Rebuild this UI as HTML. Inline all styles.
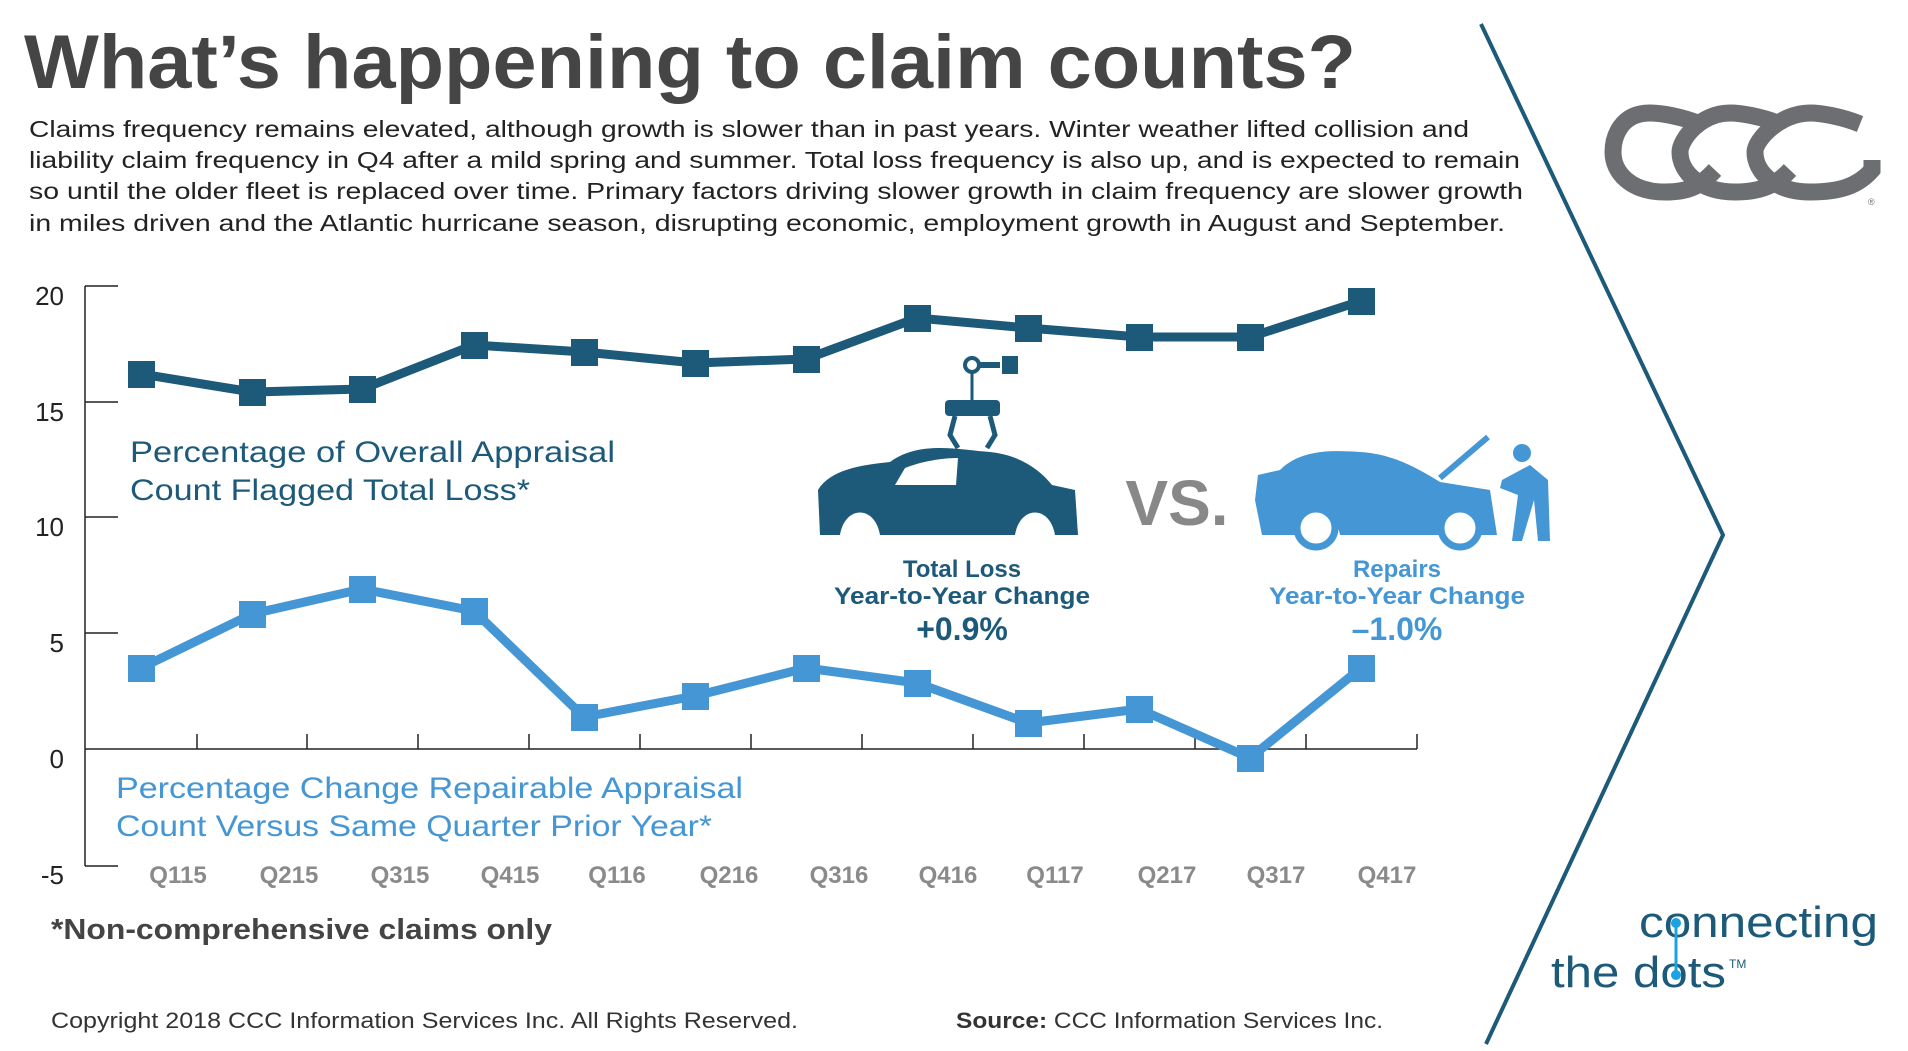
<!DOCTYPE html>
<html><head><meta charset="utf-8"><style>
html,body{margin:0;padding:0;background:#fff}
svg{display:block}
text{font-family:"Liberation Sans",sans-serif}
</style></head><body>
<svg width="1908" height="1051" viewBox="0 0 1908 1051" xmlns="http://www.w3.org/2000/svg">
<text x="24" y="88" font-size="76" font-weight="bold" fill="#454545" textLength="1332" lengthAdjust="spacingAndGlyphs">What’s happening to claim counts?</text>
<g font-size="23" fill="#222">
<text x="29" y="137" textLength="1440" lengthAdjust="spacingAndGlyphs">Claims frequency remains elevated, although growth is slower than in past years. Winter weather lifted collision and</text>
<text x="29" y="168" textLength="1491" lengthAdjust="spacingAndGlyphs">liability claim frequency in Q4 after a mild spring and summer. Total loss frequency is also up, and is expected to remain</text>
<text x="29" y="199" textLength="1494" lengthAdjust="spacingAndGlyphs">so until the older fleet is replaced over time. Primary factors driving slower growth in claim frequency are slower growth</text>
<text x="29" y="231" textLength="1476" lengthAdjust="spacingAndGlyphs">in miles driven and the Atlantic hurricane season, disrupting economic, employment growth in August and September.</text>
</g>
<polyline points="1481,24 1723,535 1486,1044" fill="none" stroke="#1d5a7a" stroke-width="4"/>
<g fill="none" stroke="#6d6e71" stroke-width="17">
<path d="M1700,124 C1680,116 1660,113 1650,113 C1620,113 1613,138 1613,152 C1613,172 1630,192 1665,192 C1690,192 1700,186 1715,170"/>
<path d="M1780,124 C1760,116 1740,113 1730,113 C1700,113 1680,140 1680,152 C1680,172 1700,192 1735,192 C1760,192 1775,186 1790,170"/>
<path d="M1860,124 C1840,116 1820,113 1810,113 C1780,113 1755,140 1755,152 C1755,172 1775,192 1810,192 C1840,192 1858,186 1872,170 L1872,160"/>
</g>
<text x="1868" y="205" font-size="9" fill="#6d6e71">®</text>
<g stroke="#222" stroke-width="1.5">
<line x1="85" y1="286" x2="85" y2="866"/>
<line x1="85" y1="286" x2="118" y2="286"/><line x1="85" y1="402" x2="118" y2="402"/><line x1="85" y1="517" x2="118" y2="517"/><line x1="85" y1="633" x2="118" y2="633"/><line x1="85" y1="866" x2="118" y2="866"/>
<line x1="85" y1="749" x2="1417" y2="749"/>
<line x1="197" y1="734" x2="197" y2="749"/><line x1="307" y1="734" x2="307" y2="749"/><line x1="418" y1="734" x2="418" y2="749"/><line x1="529" y1="734" x2="529" y2="749"/><line x1="640" y1="734" x2="640" y2="749"/><line x1="751" y1="734" x2="751" y2="749"/><line x1="862" y1="734" x2="862" y2="749"/><line x1="973" y1="734" x2="973" y2="749"/><line x1="1084" y1="734" x2="1084" y2="749"/><line x1="1195" y1="734" x2="1195" y2="749"/><line x1="1306" y1="734" x2="1306" y2="749"/><line x1="1417" y1="734" x2="1417" y2="749"/>
</g>
<g font-size="26" fill="#222" text-anchor="end">
<text x="64" y="305">20</text><text x="64" y="421">15</text><text x="64" y="536">10</text><text x="64" y="652">5</text><text x="64" y="768">0</text><text x="64" y="884">-5</text>
</g>
<g font-size="24" font-weight="bold" fill="#8a8a8a" text-anchor="middle">
<text x="178" y="883">Q115</text><text x="289" y="883">Q215</text><text x="400" y="883">Q315</text><text x="510" y="883">Q415</text><text x="617" y="883">Q116</text><text x="729" y="883">Q216</text><text x="839" y="883">Q316</text><text x="948" y="883">Q416</text><text x="1055" y="883">Q117</text><text x="1167" y="883">Q217</text><text x="1276" y="883">Q317</text><text x="1387" y="883">Q417</text>
</g>
<polyline points="141,374 252,392 362,389 474,345 584,352 695,363 806,359 917,318 1028,328 1139,337 1250,337 1361,301" fill="none" stroke="#1d5a7a" stroke-width="9" stroke-linejoin="round"/>
<g fill="#1d5a7a">
<rect x="128" y="361" width="27" height="27"/><rect x="239" y="379" width="27" height="27"/><rect x="349" y="376" width="27" height="27"/><rect x="461" y="332" width="27" height="27"/><rect x="571" y="339" width="27" height="27"/><rect x="682" y="350" width="27" height="27"/><rect x="793" y="346" width="27" height="27"/><rect x="904" y="305" width="27" height="27"/><rect x="1015" y="315" width="27" height="27"/><rect x="1126" y="324" width="27" height="27"/><rect x="1237" y="324" width="27" height="27"/><rect x="1348" y="288" width="27" height="27"/>
</g>
<polyline points="141,668 252,614 362,589 474,611 584,717 695,696 806,668 917,683 1028,723 1139,709 1250,758 1361,668" fill="none" stroke="#4596d4" stroke-width="9" stroke-linejoin="round"/>
<g fill="#4596d4">
<rect x="128" y="655" width="27" height="27"/><rect x="239" y="601" width="27" height="27"/><rect x="349" y="576" width="27" height="27"/><rect x="461" y="598" width="27" height="27"/><rect x="571" y="704" width="27" height="27"/><rect x="682" y="683" width="27" height="27"/><rect x="793" y="655" width="27" height="27"/><rect x="904" y="670" width="27" height="27"/><rect x="1015" y="710" width="27" height="27"/><rect x="1126" y="696" width="27" height="27"/><rect x="1237" y="745" width="27" height="27"/><rect x="1348" y="655" width="27" height="27"/>
</g>
<g font-size="30" fill="#1d5a7a">
<text x="130" y="462" textLength="485" lengthAdjust="spacingAndGlyphs">Percentage of Overall Appraisal</text>
<text x="130" y="500" textLength="400" lengthAdjust="spacingAndGlyphs">Count Flagged Total Loss*</text>
</g>
<g font-size="30" fill="#4596d4">
<text x="116" y="798" textLength="627" lengthAdjust="spacingAndGlyphs">Percentage Change Repairable Appraisal</text>
<text x="116" y="836" textLength="596" lengthAdjust="spacingAndGlyphs">Count Versus Same Quarter Prior Year*</text>
</g>
<g fill="#1d5a7a" stroke="#1d5a7a">
<circle cx="972" cy="365" r="7" fill="none" stroke-width="4"/>
<rect x="980" y="362" width="20" height="6" stroke="none"/>
<rect x="1002" y="356" width="16" height="18" stroke="none"/>
<line x1="972" y1="372" x2="972" y2="400" stroke-width="3"/>
<rect x="945" y="400" width="55" height="16" rx="4" stroke="none"/>
<path d="M955,416 L950,435 L958,448 M990,416 L995,435 L987,448" fill="none" stroke-width="5"/>
</g>
<path d="M820,535 L818,490 C830,470 860,465 890,462 C920,440 960,450 990,452 C1020,455 1040,470 1052,485 L1075,490 L1078,535 L1055,535 C1050,505 1020,505 1015,535 L880,535 C875,505 845,505 840,535 Z" fill="#1d5a7a"/>
<path d="M895,485 L905,468 C930,458 955,458 958,458 L956,485 Z" fill="#fff"/>
<text x="1177" y="525" font-size="64" font-weight="bold" fill="#888" text-anchor="middle">VS.</text>
<path d="M1255,500 L1258,475 L1280,470 C1300,450 1330,450 1360,452 C1395,454 1420,470 1440,482 L1490,490 L1497,535 L1480,535 C1475,505 1445,505 1440,535 L1340,535 C1335,505 1300,505 1295,535 L1262,535 Z" fill="#4596d4"/>
<circle cx="1316" cy="528" r="19" fill="#fff" stroke="#4596d4" stroke-width="7"/>
<circle cx="1460" cy="528" r="19" fill="#fff" stroke="#4596d4" stroke-width="7"/>
<path d="M1440,478 L1488,437" stroke="#4596d4" stroke-width="6"/>
<circle cx="1522" cy="453" r="9" fill="#4596d4"/>
<path d="M1502,480 L1530,465 L1548,480 L1550,541 L1538,541 L1534,500 L1522,541 L1512,541 L1518,495 L1500,488 Z" fill="#4596d4"/>
<g text-anchor="middle" font-weight="bold">
<text x="962" y="577" font-size="24" fill="#1d5a7a">Total Loss</text>
<text x="962" y="604" font-size="24" fill="#1d5a7a" textLength="256" lengthAdjust="spacingAndGlyphs">Year-to-Year Change</text>
<text x="962" y="640" font-size="32" fill="#1d5a7a">+0.9%</text>
<text x="1397" y="577" font-size="24" fill="#4596d4">Repairs</text>
<text x="1397" y="604" font-size="24" fill="#4596d4" textLength="256" lengthAdjust="spacingAndGlyphs">Year-to-Year Change</text>
<text x="1397" y="640" font-size="32" fill="#4596d4">–1.0%</text>
</g>
<text x="51" y="939" font-size="29" font-weight="bold" fill="#444" textLength="501" lengthAdjust="spacingAndGlyphs">*Non-comprehensive claims only</text>
<text x="51" y="1028" font-size="22" fill="#333" textLength="747" lengthAdjust="spacingAndGlyphs">Copyright 2018 CCC Information Services Inc. All Rights Reserved.</text>
<text x="956" y="1028" font-size="22" fill="#333" textLength="427" lengthAdjust="spacingAndGlyphs"><tspan font-weight="bold">Source:</tspan> CCC Information Services Inc.</text>
<text x="1639" y="937" font-size="44" fill="#1d5a7a" textLength="239" lengthAdjust="spacingAndGlyphs">connecting</text>
<text x="1551" y="987" font-size="44" fill="#1d5a7a" textLength="175" lengthAdjust="spacingAndGlyphs">the dots</text>
<text x="1729" y="968" font-size="12" fill="#1d5a7a">TM</text>
<line x1="1676" y1="923" x2="1676" y2="975" stroke="#1aa3e0" stroke-width="3"/>
<circle cx="1676" cy="923" r="5" fill="#1aa3e0"/><circle cx="1676" cy="975" r="5" fill="#1aa3e0"/>
</svg>
</body></html>
